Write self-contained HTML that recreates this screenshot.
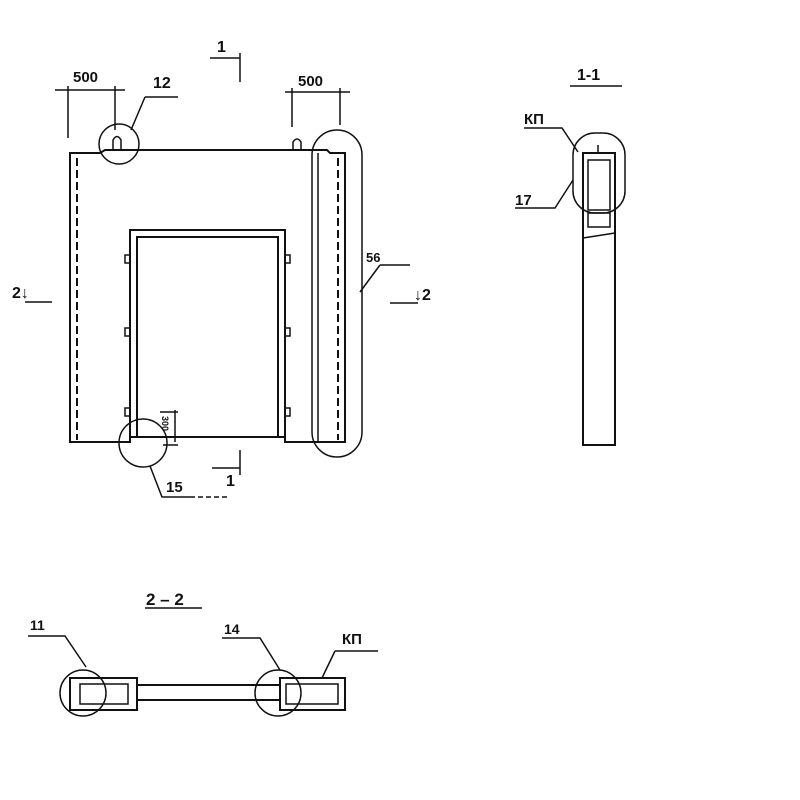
<!DOCTYPE html>
<html><head><style>body{margin:0;background:#fff}svg{display:block}text{font-family:"Liberation Sans",sans-serif;font-weight:bold;fill:#111;stroke:none}</style></head>
<body>
<svg width="800" height="800" viewBox="0 0 800 800" stroke="#111" fill="none" stroke-width="2">
<!-- main elevation -->
<path d="M70 153 L100 153 L105 150 L327 150 L330 153 L345 153 L345 442 L285 442 L285 437 L278 437 L278 237 L137 237 L137 437 L130 437 L130 442 L70 442 Z"/>
<path d="M130 437 L130 230 L285 230 L285 437" />
<line x1="137" y1="437" x2="278" y2="437"/>
<line x1="77" y1="158" x2="77" y2="440" stroke-dasharray="8,4"/>
<line x1="338" y1="158" x2="338" y2="440" stroke-dasharray="8,4"/>
<line x1="318" y1="153" x2="318" y2="442" stroke-width="1.5"/>
<g stroke-width="1.5">
<rect x="125" y="255" width="5" height="8"/><rect x="125" y="328" width="5" height="8"/><rect x="125" y="408" width="5" height="8"/>
<rect x="285" y="255" width="5" height="8"/><rect x="285" y="328" width="5" height="8"/><rect x="285" y="408" width="5" height="8"/>
</g>
<path d="M113 150 L113 140 Q117 133 121 140 L121 150" stroke-width="1.5"/>
<path d="M293 150 L293 142 Q297 136 301 142 L301 150" stroke-width="1.5"/>
<circle cx="119" cy="144" r="20" stroke-width="1.5"/>
<circle cx="143" cy="443" r="24" stroke-width="1.5"/>
<rect x="312" y="130" width="50" height="327" rx="25" stroke-width="1.5"/>
<!-- dims -->
<g stroke-width="1.5">
<line x1="55" y1="90" x2="125" y2="90"/><line x1="68" y1="86" x2="68" y2="138"/><line x1="115" y1="86" x2="115" y2="130"/>
<line x1="285" y1="92" x2="350" y2="92"/><line x1="292" y1="88" x2="292" y2="127"/><line x1="340" y1="88" x2="340" y2="125"/>
<line x1="210" y1="58" x2="240" y2="58"/><line x1="240" y1="53" x2="240" y2="82"/>
<line x1="212" y1="468" x2="240" y2="468"/><line x1="240" y1="450" x2="240" y2="475"/>
<line x1="163" y1="445" x2="178" y2="445"/><line x1="175" y1="410" x2="175" y2="442"/><line x1="160" y1="412" x2="178" y2="412"/>
<path d="M145 97 L178 97 M145 97 L131 130"/>
<path d="M380 265 L410 265 M380 265 L360 292"/>
<path d="M150 466 L162 497 L195 497"/>
<path d="M198 497 L230 497" stroke-dasharray="5,3"/>
<line x1="25" y1="302" x2="52" y2="302"/>
<line x1="390" y1="303" x2="418" y2="303"/>
</g>
<text x="73" y="82" font-size="15">500</text>
<text x="153" y="88" font-size="16">12</text>
<text x="298" y="86" font-size="15">500</text>
<text x="217" y="52" font-size="16">1</text>
<text x="226" y="486" font-size="16">1</text>
<text x="366" y="262" font-size="13">56</text>
<text x="12" y="298" font-size="16">2↓</text>
<text x="414" y="300" font-size="16">↓2</text>
<text x="166" y="492" font-size="15">15</text>
<text x="0" y="0" font-size="9" transform="translate(162 416) rotate(90)">300</text>
<!-- 1-1 -->
<text x="577" y="80" font-size="16">1-1</text>
<line x1="570" y1="86" x2="622" y2="86" stroke-width="1.5"/>
<text x="524" y="124" font-size="15">КП</text>
<path d="M524 128 L562 128 L578 152" stroke-width="1.5"/>
<text x="515" y="205" font-size="15">17</text>
<path d="M515 208 L555 208 L573 180" stroke-width="1.5"/>
<rect x="583" y="153" width="32" height="292"/>
<rect x="588" y="160" width="22" height="50" stroke-width="1.5"/>
<rect x="588" y="213" width="22" height="14" stroke-width="1.5"/>
<line x1="583" y1="238" x2="615" y2="233" stroke-width="1.5"/>
<line x1="598" y1="145" x2="598" y2="153" stroke-width="1.5"/>
<rect x="573" y="133" width="52" height="80" rx="22" stroke-width="1.5"/>
<!-- 2-2 -->
<text x="146" y="605" font-size="17">2 – 2</text>
<line x1="145" y1="608" x2="202" y2="608" stroke-width="1.5"/>
<text x="30" y="630" font-size="14">11</text>
<path d="M28 636 L65 636 L86 667" stroke-width="1.5"/>
<text x="224" y="634" font-size="14">14</text>
<path d="M222 638 L260 638 L280 670" stroke-width="1.5"/>
<text x="342" y="644" font-size="15">КП</text>
<path d="M335 651 L378 651 M335 651 L322 678" stroke-width="1.5"/>
<path d="M70 678 L137 678 L137 710 L70 710 Z"/>
<rect x="80" y="684" width="48" height="20" stroke-width="1.5"/>
<line x1="137" y1="685" x2="280" y2="685"/><line x1="137" y1="700" x2="280" y2="700"/>
<path d="M280 678 L345 678 L345 710 L280 710 Z"/>
<rect x="286" y="684" width="52" height="20" stroke-width="1.5"/>
<circle cx="83" cy="693" r="23" stroke-width="1.5"/>
<circle cx="278" cy="693" r="23" stroke-width="1.5"/>
</svg>
</body></html>
